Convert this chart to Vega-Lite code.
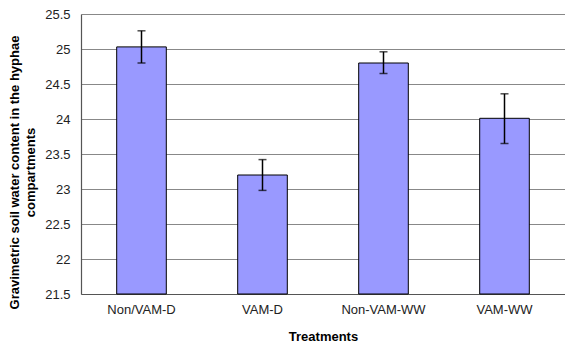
{
  "$schema": "https://vega.github.io/schema/vega-lite/v6.json",
  "width": 484,
  "height": 280,
  "autosize": {"type": "none"},
  "padding": {"left": 81, "top": 14, "right": 0, "bottom": 51},
  "background": "white",
  "config": {
    "view": {"stroke": null},
    "font": "Liberation Sans",
    "axis": {"labelFont": "Liberation Sans", "titleFont": "Liberation Sans"}
  },
  "data": {
    "values": [
      {"treatment": "Non/VAM-D", "mean": 25.03, "low": 24.80, "high": 25.26},
      {"treatment": "VAM-D", "mean": 23.20, "low": 22.98, "high": 23.42},
      {"treatment": "Non-VAM-WW", "mean": 24.80, "low": 24.65, "high": 24.96},
      {"treatment": "VAM-WW", "mean": 24.01, "low": 23.65, "high": 24.36}
    ]
  },
  "encoding": {
    "x": {
      "field": "treatment",
      "type": "nominal",
      "sort": null,
      "scale": {"paddingInner": 0.59, "paddingOuter": 0.295},
      "axis": {
        "title": "Treatments",
        "titleFontSize": 13,
        "titleFontWeight": "bold",
        "titleColor": "#000",
        "titleY": 36,
        "titleBaseline": "top",
        "labelAngle": 0,
        "labelFontSize": 13,
        "labelColor": "#222",
        "labelPadding": 9,
        "labelOverlap": false,
        "ticks": false,
        "domainColor": "#555",
        "domainWidth": 1.2
      }
    }
  },
  "layer": [
    {
      "mark": {"type": "bar", "fill": "#9999FF", "stroke": "#000", "strokeWidth": 1},
      "encoding": {
        "y": {
          "field": "mean",
          "type": "quantitative",
          "scale": {"domain": [21.5, 25.5], "zero": false, "nice": false},
          "axis": {
            "title": ["Gravimetric soil water content in the hyphae", "compartments"],
            "titleFontSize": 13,
            "titleFontWeight": "bold",
            "titleColor": "#000",
            "titleLineHeight": 16,
            "titleX": -60,
            "titleY": 158,
            "values": [21.5, 22, 22.5, 23, 23.5, 24, 24.5, 25, 25.5],
            "tickCount": 12,
            "format": "~g",
            "labelOverlap": false,
            "labelFlush": false,
            "labelFontSize": 13,
            "labelColor": "#222",
            "labelPadding": 11,
            "ticks": false,
            "grid": true,
            "gridColor": "#888",
            "gridWidth": 1,
            "domainColor": "#555",
            "domainWidth": 1.2
          }
        },
        "y2": {"datum": 21.5}
      }
    },
    {
      "mark": {"type": "rule", "color": "#000", "strokeWidth": 1.5},
      "encoding": {
        "y": {"field": "low", "type": "quantitative"},
        "y2": {"field": "high"}
      }
    },
    {
      "mark": {"type": "tick", "color": "#000", "size": 8, "thickness": 1.5},
      "encoding": {"y": {"field": "low", "type": "quantitative"}}
    },
    {
      "mark": {"type": "tick", "color": "#000", "size": 8, "thickness": 1.5},
      "encoding": {"y": {"field": "high", "type": "quantitative"}}
    }
  ]
}
